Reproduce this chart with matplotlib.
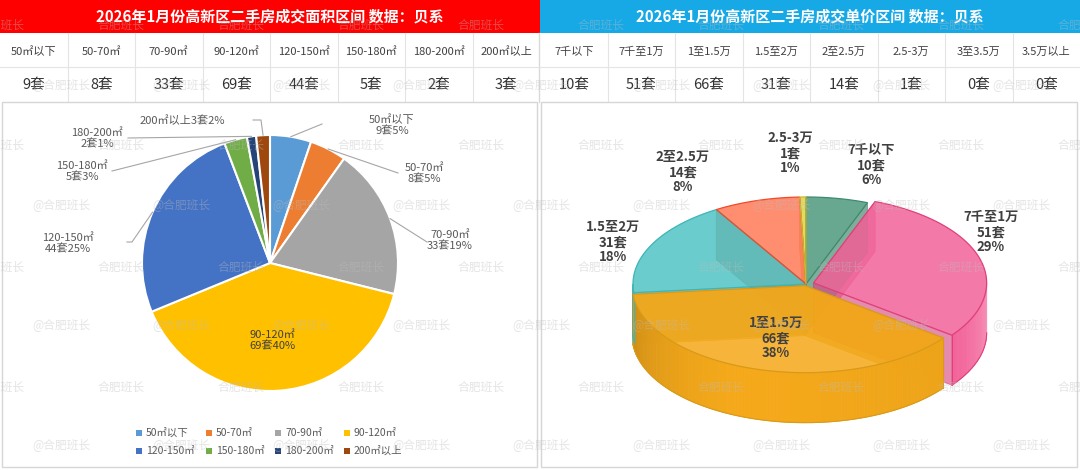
import numpy as np
import matplotlib
matplotlib.use('Agg')
import matplotlib.pyplot as plt
from matplotlib.patches import Rectangle, Polygon
import matplotlib.colors as mcolors

plt.rcParams['font.family'] = ['Noto Sans CJK SC', 'DejaVu Sans']

W, H = 1080, 470

# ---------------- data ----------------
area_title = '2026年1月份高新区二手房成交面积区间 数据：贝系'
price_title = '2026年1月份高新区二手房成交单价区间 数据：贝系'
area_cats = ['50㎡以下', '50-70㎡', '70-90㎡', '90-120㎡', '120-150㎡', '150-180㎡', '180-200㎡', '200㎡以上']
area_counts = [9, 8, 33, 69, 44, 5, 2, 3]
price_cats = ['7千以下', '7千至1万', '1至1.5万', '1.5至2万', '2至2.5万', '2.5-3万', '3至3.5万', '3.5万以上']
price_counts = [10, 51, 66, 31, 14, 1, 0, 0]
unit = '套'
watermark_a = '合肥班长'
watermark_b = '@合肥班长'

# ---------------- styles / layout ----------------
area_colors = ['#5B9BD5', '#ED7D31', '#A5A5A5', '#FFC000', '#4472C4', '#70AD47', '#264478', '#9E480E']
price_top_colors = ['#4F9A7E', '#F2649A', '#F5A91A', '#52C4C4', '#FF7A58', '#E0D443', '#999999', '#999999']
price_edge_colors = ['#3F8A6E', '#E0407A', '#D99A1A', '#3FB5B5', '#F04A2A', '#C8B830', '#888888', '#888888']

red_head = '#FF0000'
blue_head = '#17A9E6'
grid_col = '#E4E4E4'
label_grey = '#595959'

col_w = 67.5
head_h = 33
row1_y, row2_y = 52, 85
row_line_y = 67
panel_top, panel_bot = 102, 467

# left pie layout
pie_c = (270, 263)
pie_r = 128
area_label_pos = [(392, 125), (424, 174), (450, 241), (272, 341), (68, 244), (82, 172), (97, 139), (182, 121)]
area_leader_pts = [[(322, 124)], [(398, 173)], [(427, 242)], None, [(127, 242), (132, 242)],
                   [(112, 171)], [(128, 138)], [(253, 120), (261, 120)]]
legend_x = [139, 209, 278, 347]
legend_y = [433, 451]

# 3d pie layout
cx3, cy3, a3, b3, d3 = 806, 284, 173, 87, 50
explode3 = [0, 0.046, 0.02, 0, 0, 0, 0, 0]
price_label_pos = [(871, 165), (991, 232), (776, 338), (613, 242), (683, 172), (790, 153)]

fig = plt.figure(figsize=(10.8, 4.7), dpi=100)
ax = fig.add_axes([0, 0, 1, 1])

# ---------------- left pie ----------------
wedges, _ = ax.pie(area_counts, colors=area_colors, startangle=-90, counterclock=True,
                   center=pie_c, radius=pie_r,
                   wedgeprops=dict(edgecolor='white', linewidth=1.5))
for w in wedges:
    w.set_zorder(3)

ax.set_xlim(0, W)
ax.set_ylim(H, 0)
ax.set_aspect('auto')
ax.axis('off')

# headers
ax.add_patch(Rectangle((0, 0), 540, head_h, facecolor=red_head, edgecolor='none', zorder=1))
ax.add_patch(Rectangle((540, 0), 540, head_h, facecolor=blue_head, edgecolor='none', zorder=1))
ax.text(270, head_h / 2, area_title, color='white', fontsize=10.8, fontweight='bold',
        ha='center', va='center', zorder=5)
ax.text(810, head_h / 2, price_title, color='white', fontsize=10.8, fontweight='bold',
        ha='center', va='center', zorder=5)

# tables
for side, (cats, counts) in enumerate([(area_cats, area_counts), (price_cats, price_counts)]):
    x0 = 540 * side
    for k in range(len(cats)):
        xc = x0 + col_w * (k + 0.5)
        ax.text(xc, row1_y, cats[k], fontsize=8, color='#404040', ha='center', va='center', zorder=5)
        ax.text(xc, row2_y, f'{counts[k]}{unit}', fontsize=10.5, color='#333333',
                ha='center', va='center', zorder=5)
        if k > 0:
            ax.plot([x0 + col_w * k] * 2, [head_h, panel_top], color=grid_col, lw=0.8, zorder=2)
ax.plot([539, 539], [head_h, panel_top], color='#D9D9D9', lw=1, zorder=2)
ax.plot([0, W], [row_line_y, row_line_y], color=grid_col, lw=0.8, zorder=2)

# panels
ax.add_patch(Rectangle((2, panel_top), 535, panel_bot - panel_top, facecolor='none',
                       edgecolor='#D6D6D6', lw=1, zorder=2))
ax.add_patch(Rectangle((541, panel_top), 536, panel_bot - panel_top, facecolor='none',
                       edgecolor='#D6D6D6', lw=1, zorder=2))

# left labels
total_a = sum(area_counts)
for i, w in enumerate(wedges):
    pct = round(area_counts[i] / total_a * 100)
    if i == len(area_cats) - 1:
        txt = f'{area_cats[i]}{area_counts[i]}{unit}{pct}%'
    else:
        txt = f'{area_cats[i]}\n{area_counts[i]}{unit}{pct}%'
    lx, ly = area_label_pos[i]
    ax.text(lx, ly, txt, fontsize=8, color=label_grey if i != 3 else '#404040',
            ha='center', va='center', linespacing=1.15, zorder=6)
    if area_leader_pts[i] is not None:
        th = np.radians((w.theta1 + w.theta2) / 2)
        px = pie_c[0] + pie_r * np.cos(th)
        py = pie_c[1] + pie_r * np.sin(th)
        pts = area_leader_pts[i] + [(px, py)]
        ax.plot([p[0] for p in pts], [p[1] for p in pts], color='#A6A6A6', lw=0.8, zorder=4)

# legend
for i, cat in enumerate(area_cats):
    r, c = divmod(i, 4)
    x, y = legend_x[c], legend_y[r]
    ax.add_patch(Rectangle((x - 3, y - 3), 6, 6, facecolor=area_colors[i], edgecolor='none', zorder=5))
    ax.text(x + 7, y, cat, fontsize=7.5, color=label_grey, ha='left', va='center', zorder=5)


# ---------------- right 3D pie ----------------
def mix(c, f):
    r, g, b = mcolors.to_rgb(c)
    if f <= 1:
        return (r * f, g * f, b * f)
    k = f - 1
    return (r + (1 - r) * k, g + (1 - g) * k, b + (1 - b) * k)


total_p = sum(price_counts)
cum = np.concatenate([[0], np.cumsum(price_counts)]) / total_p * 360.0


def ep(t, ox, oy, dz=0.0):
    tr = np.radians(t)
    return (cx3 + ox + a3 * np.sin(tr), cy3 + oy - b3 * np.cos(tr) + dz)


slices = []
for i, v in enumerate(price_counts):
    if v <= 0:
        continue
    t0, t1 = cum[i], cum[i + 1]
    tm = np.radians((t0 + t1) / 2)
    ox = explode3[i] * a3 * np.sin(tm)
    oy = -explode3[i] * b3 * np.cos(tm)
    slices.append((i, t0, t1, ox, oy))

# radial faces (all, semi transparent)
faces = []
for i, t0, t1, ox, oy in slices:
    C = (cx3 + ox, cy3 + oy)
    for t in (t0, t1):
        P = ep(t, ox, oy)
        poly = [C, P, (P[0], P[1] + d3), (C[0], C[1] + d3)]
        key = np.mean([p[1] for p in poly])
        faces.append((key, poly, i))
faces.sort(key=lambda f: f[0])
for key, poly, i in faces:
    ax.add_patch(Polygon(poly, closed=True, facecolor=mix(price_top_colors[i], 0.9),
                         edgecolor=price_edge_colors[i], lw=0.6, alpha=0.7, zorder=10))


# outer front walls (with gradient)
def wall_shade(i, t):
    if i == 2:  # yellow
        if t > 200:
            return 1 - 0.16 * ((t - 200) / 64) ** 1.5
        return 1 - 0.03 * ((200 - t) / 73)
    if i == 1:  # pink
        return 1 + 0.35 * max(0, (127 - t) / 37) ** 1.2
    return 0.9


for i, t0, t1, ox, oy in slices:
    lo, hi = max(t0, 90), min(t1, 270)
    if hi <= lo:
        continue
    ts = np.linspace(lo, hi, int(hi - lo) + 2)
    for k in range(len(ts) - 1):
        p1 = ep(ts[k], ox, oy)
        p2 = ep(ts[k + 1], ox, oy)
        col = mix(price_top_colors[i], wall_shade(i, (ts[k] + ts[k + 1]) / 2))
        ax.add_patch(Polygon([p1, p2, (p2[0], p2[1] + d3), (p1[0], p1[1] + d3)], closed=True,
                             facecolor=col, edgecolor=col, lw=0.6, zorder=11))
    bx = [ep(t, ox, oy, d3)[0] for t in ts]
    by = [ep(t, ox, oy, d3)[1] for t in ts]
    ax.plot(bx, by, color=price_edge_colors[i], lw=0.8, zorder=11.5)
    for t in (lo, hi):
        if t in (t0, t1):
            p = ep(t, ox, oy)
            ax.plot([p[0], p[0]], [p[1], p[1] + d3], color=price_edge_colors[i], lw=0.8, zorder=11.5)

# tops
for i, t0, t1, ox, oy in slices:
    C = (cx3 + ox, cy3 + oy)
    ts = np.linspace(t0, t1, max(3, int((t1 - t0) * 2)))
    poly = [C] + [ep(t, ox, oy) for t in ts]
    ax.add_patch(Polygon(poly, closed=True, facecolor=price_top_colors[i], edgecolor='none',
                         alpha=0.86, zorder=12))
    ax.add_patch(Polygon(poly, closed=True, facecolor='none', edgecolor=price_edge_colors[i],
                         lw=0.9, zorder=12.5))

# right labels
for n, (i, t0, t1, ox, oy) in enumerate(slices):
    pct = round(price_counts[i] / total_p * 100)
    lx, ly = price_label_pos[n]
    ax.text(lx, ly, f'{price_cats[i]}\n{price_counts[i]}{unit}\n{pct}%', fontsize=9.5,
            fontweight='bold', color='#404040', ha='center', va='center', linespacing=1.1, zorder=20)

# ---------------- watermarks ----------------
wm_dx = 120
for ry, txt, x_start in [(25, watermark_a, 1), (85, watermark_b, 61), (145, watermark_a, 1),
                         (205, watermark_b, 61), (267, watermark_a, 1), (325, watermark_b, 61),
                         (387, watermark_a, 1), (445, watermark_b, 61)]:
    xs = np.arange(x_start, W + 60, wm_dx)
    for x in xs:
        ax.text(x, ry, txt, fontsize=8.5, color='#BDBDBD', alpha=0.4, ha='center', va='center',
                zorder=30)

fig.savefig('out.png', dpi=100, facecolor='white')
